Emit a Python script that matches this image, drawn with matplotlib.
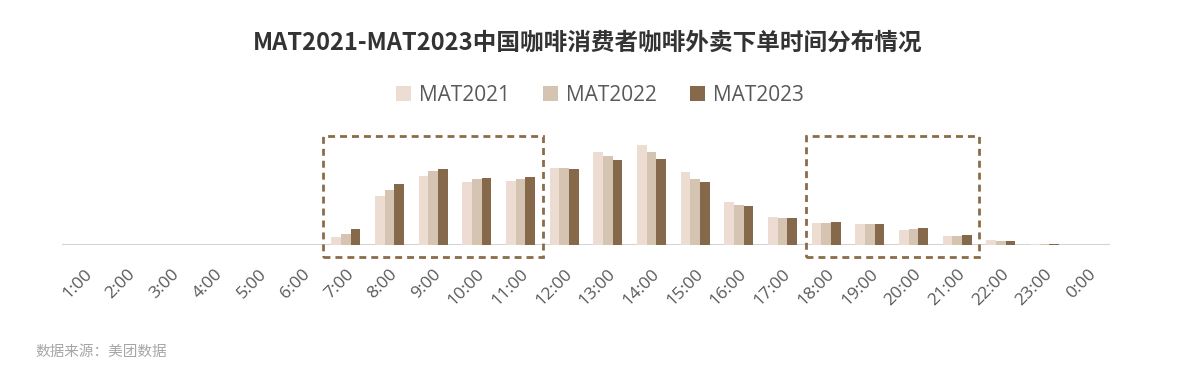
import matplotlib.pyplot as plt
import numpy as np
from matplotlib.patches import Rectangle

plt.rcParams['font.family'] = ['Noto Sans CJK SC', 'DejaVu Sans']

# hour labels and share of orders
hours = ['1:00', '2:00', '3:00', '4:00', '5:00', '6:00', '7:00', '8:00',
         '9:00', '10:00', '11:00', '12:00', '13:00', '14:00', '15:00',
         '16:00', '17:00', '18:00', '19:00', '20:00', '21:00', '22:00',
         '23:00', '0:00']
mat2021 = [0, 0, 0, 0, 0, 0, 8.3, 48.7, 69.3, 63.3, 64, 76.7, 92.7, 99.7,
           72.7, 43, 28, 22.3, 20.7, 15, 9, 4.7, 1.2, 0.3]
mat2022 = [0, 0, 0, 0, 0, 0, 11.3, 55.3, 74.3, 65.7, 66.3, 76.7, 89.3, 93,
           66.3, 40.3, 27, 22.3, 20.7, 15.7, 8.7, 4, 1.2, 0.3]
mat2023 = [0, 0, 0, 0, 0, 0, 16, 61.3, 76, 67, 68.3, 75.7, 85, 86,
           62.7, 39, 27, 23, 21, 17, 9.7, 4, 1.5, 0.4]
series_names = ['MAT2021', 'MAT2022', 'MAT2023']
colors = ['#ecdcd1', '#d4c4b1', '#86694a']

fig = plt.figure(figsize=(12, 3.88), dpi=100)
ax = fig.add_axes([62 / 1200, 143 / 388, 1048 / 1200, 110 / 388])

x = np.arange(len(hours))
w = 0.22
for i, (vals, name, c) in enumerate(zip([mat2021, mat2022, mat2023], series_names, colors)):
    ax.bar(x + (i - 1) * w, vals, width=w, color=c, label=name, zorder=3)

ax.set_xlim(-0.5, len(hours) - 0.5)
ax.set_ylim(0, 110)
ax.axhline(0, color='#d3d3d3', lw=2.2, zorder=2)

for s in ax.spines.values():
    s.set_visible(False)
ax.set_yticks([])
ax.set_xticks(x)
ax.set_xticklabels(hours, rotation=45, ha='right', rotation_mode='anchor',
                   fontsize=12.5, color='#595959', family=['Open Sans', 'Noto Sans CJK SC'])
ax.tick_params(axis='x', length=0, pad=15)

# dashed highlight boxes (morning and evening)
for x0, x1 in [(5.48, 10.51), (16.54, 20.5)]:
    ax.add_patch(Rectangle((x0, -12), x1 - x0, 121, fill=False,
                           edgecolor='#8b6b4a', lw=2, ls=(0, (2.5, 1.8)),
                           clip_on=False, zorder=4))

fig.text(0.49, 0.89, 'MAT2021-MAT2023中国咖啡消费者咖啡外卖下单时间分布情况',
         ha='center', va='center', fontsize=17, fontweight='bold', color='#333333')

leg = fig.legend(loc='center', bbox_to_anchor=(0.5, 0.755), ncol=3, frameon=False,
                 prop={'family': ['Open Sans', 'Noto Sans CJK SC'], 'size': 15},
                 handlelength=0.7, handleheight=0.7,
                 handletextpad=0.4, columnspacing=1.6)
for t in leg.get_texts():
    t.set_color('#595959')

fig.text(35 / 1200, 1 - 352 / 388, '数据来源：美团数据', ha='left', va='center',
         fontsize=10.5, color='#a6a6a6')

fig.savefig('out.png', dpi=100)
